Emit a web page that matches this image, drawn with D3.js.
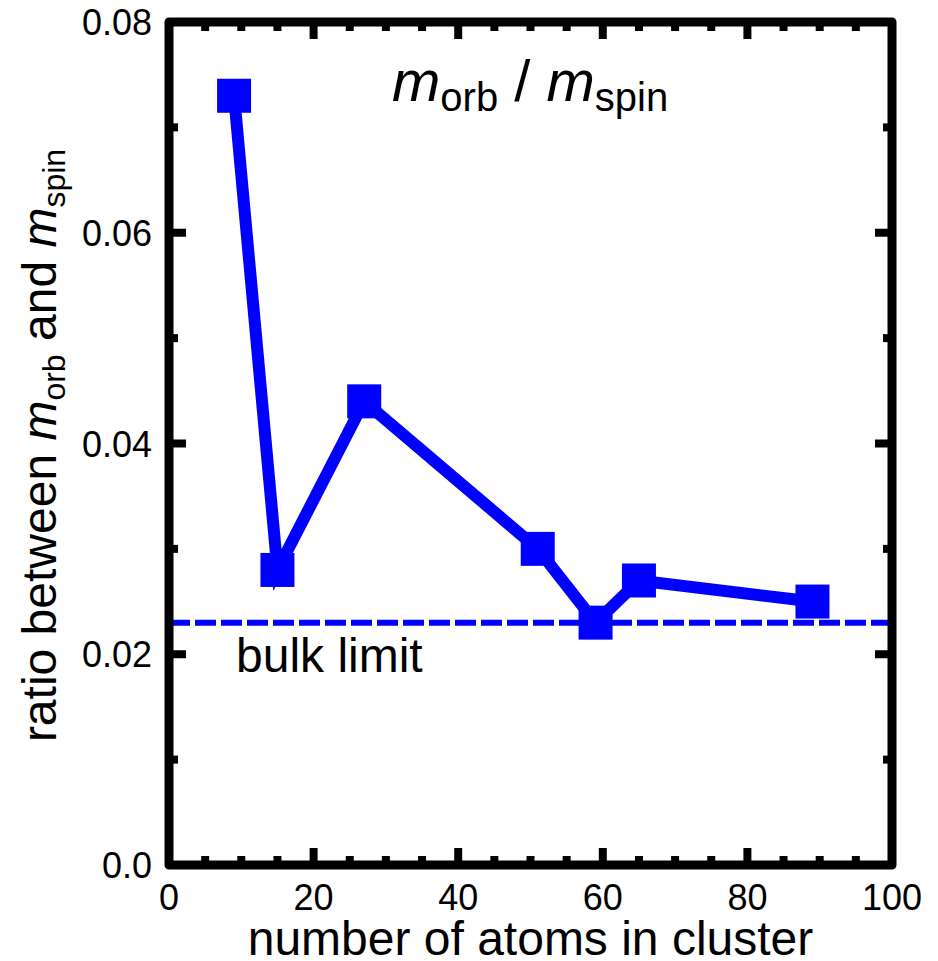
<!DOCTYPE html>
<html>
<head>
<meta charset="utf-8">
<script src="https://cdn.jsdelivr.net/npm/d3@7"></script>
<style>
  html, body { margin: 0; padding: 0; background: #fff; }
  svg { display: block; font-family: "Liberation Sans", Arial, Helvetica, sans-serif; }
</style>
</head>
<body>
<svg id="chart" width="938" height="961"></svg>
<script>
// ---- data ----
const atoms = [9, 15, 27, 51, 59, 65, 89];
const ratio = [0.073, 0.028, 0.044, 0.030, 0.023, 0.027, 0.025];
const bulkLimit = 0.023;
const xTickValues = [0, 20, 40, 60, 80, 100];
const xMinorValues = d3.range(0, 101, 5);
const yTickValues = [0.0, 0.02, 0.04, 0.06, 0.08];
const yTickLabels = ["0.0", "0.02", "0.04", "0.06", "0.08"];
const yMinorValues = [0, 0.01, 0.02, 0.03, 0.04, 0.05, 0.06, 0.07, 0.08];

const svg = d3.select("#chart");
const L = 169, R = 892, T = 22, B = 865;
const x = d3.scaleLinear().domain([0, 100]).range([L, R]);
const y = d3.scaleLinear().domain([0, 0.08]).range([B, T]);

// bulk limit dashed line
svg.append("line")
  .attr("x1", x(0)).attr("x2", x(100))
  .attr("y1", y(bulkLimit)).attr("y2", y(bulkLimit))
  .attr("stroke", "#0000ff").attr("stroke-width", 6)
  .attr("stroke-dasharray", "21,5");

// series line
svg.append("path")
  .datum(atoms.map((a, i) => [a, ratio[i]]))
  .attr("fill", "none").attr("stroke", "#0000ff").attr("stroke-width", 12)
  .attr("stroke-linejoin", "miter")
  .attr("d", d3.line().x(d => x(d[0])).y(d => y(d[1])));

// markers
const S = 34;
svg.selectAll("rect.mk").data(atoms.map((a, i) => [a, ratio[i]])).enter()
  .append("rect").attr("class", "mk")
  .attr("x", d => x(d[0]) - S / 2).attr("y", d => y(d[1]) - S / 2)
  .attr("width", S).attr("height", S).attr("fill", "#0000ff");

// ticks (inward, all four sides)
const tk = svg.append("g").attr("stroke", "#000").attr("stroke-width", 8);
xMinorValues.forEach(v => {
  const len = xTickValues.includes(v) ? 17 : 9;
  tk.append("line").attr("x1", x(v)).attr("x2", x(v)).attr("y1", B).attr("y2", B - len);
  tk.append("line").attr("x1", x(v)).attr("x2", x(v)).attr("y1", T).attr("y2", T + len);
});
yMinorValues.forEach((v, i) => {
  const len = (i % 2 === 0) ? 17 : 9;
  tk.append("line").attr("y1", y(v)).attr("y2", y(v)).attr("x1", L).attr("x2", L + len);
  tk.append("line").attr("y1", y(v)).attr("y2", y(v)).attr("x1", R).attr("x2", R - len);
});

// frame
svg.append("rect")
  .attr("x", L).attr("y", T).attr("width", R - L).attr("height", B - T)
  .attr("fill", "none").attr("stroke", "#000").attr("stroke-width", 9)
  .attr("stroke-linejoin", "round");

// tick labels
svg.append("g").selectAll("text").data(xTickValues).enter().append("text")
  .attr("x", d => x(d)).attr("y", 910)
  .attr("text-anchor", "middle").attr("font-size", 36).attr("fill", "#000")
  .text(d => d);
svg.append("g").selectAll("text").data(yTickValues).enter().append("text")
  .attr("x", 152).attr("y", d => y(d) + 13)
  .attr("text-anchor", "end").attr("font-size", 36).attr("fill", "#000")
  .text((d, i) => yTickLabels[i]);

// x title
svg.append("text").attr("x", (L + R) / 2).attr("y", 955)
  .attr("text-anchor", "middle").attr("font-size", 48).attr("fill", "#000")
  .text("number of atoms in cluster");

// y title
const yt = svg.append("text")
  .attr("transform", `translate(56,${(T + B) / 2 + 2}) rotate(-90)`)
  .attr("text-anchor", "middle").attr("font-size", 48).attr("fill", "#000");
yt.append("tspan").text("ratio between ");
yt.append("tspan").attr("font-style", "italic").text("m");
yt.append("tspan").attr("font-size", 32).attr("dy", 9).text("orb");
yt.append("tspan").attr("dy", -9).text(" and ");
yt.append("tspan").attr("font-style", "italic").text("m");
yt.append("tspan").attr("font-size", 32).attr("dy", 9).text("spin");

// in-plot title
const tt = svg.append("text").attr("x", 392).attr("y", 101)
  .attr("font-size", 58).attr("fill", "#000");
tt.append("tspan").attr("font-style", "italic").text("m");
tt.append("tspan").attr("font-size", 40).attr("dy", 10).text("orb");
tt.append("tspan").attr("dy", -10).text(" / ");
tt.append("tspan").attr("font-style", "italic").text("m");
tt.append("tspan").attr("font-size", 40).attr("dy", 10).text("spin");

// bulk limit label
svg.append("text").attr("x", 236).attr("y", 672)
  .attr("font-size", 48).attr("fill", "#000").text("bulk limit");
</script>
</body>
</html>
